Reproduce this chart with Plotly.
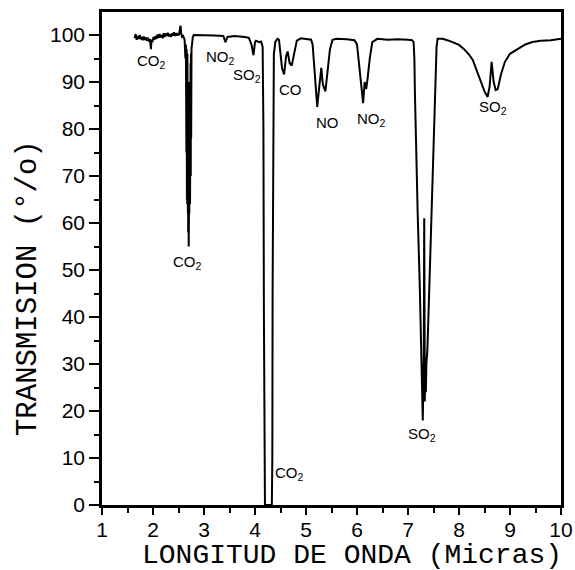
import plotly.graph_objects as go

# Spectrum: wavelength (micras) and transmission (%)
wavelength = [
    1.64, 1.66, 1.68, 1.70, 1.72, 1.74, 1.76, 1.78, 1.80, 1.82, 1.84, 1.86, 1.88, 1.90, 1.92, 1.94,
    1.96, 1.97, 1.99, 2.01, 2.03, 2.05, 2.07, 2.09, 2.11, 2.13, 2.15, 2.17, 2.19, 2.21, 2.23, 2.25,
    2.27, 2.29, 2.31, 2.33, 2.35, 2.37, 2.39, 2.41, 2.43, 2.45, 2.47, 2.49, 2.51, 2.53, 2.54, 2.55,
    2.57, 2.59, 2.61,
    2.620, 2.635, 2.645, 2.655, 2.660, 2.665, 2.669, 2.672, 2.675, 2.678, 2.681, 2.684, 2.687,
    2.690, 2.693, 2.695, 2.698, 2.700, 2.703, 2.705, 2.708, 2.712, 2.716,
    2.720, 2.723, 2.726, 2.729, 2.732, 2.736, 2.740, 2.744, 2.748, 2.755, 2.765, 2.780, 2.800,
    3.00, 3.20, 3.38, 3.42, 3.46, 3.60, 3.80, 3.88, 3.93, 3.97, 4.00, 4.02, 4.08, 4.12, 4.15,
    4.165, 4.175, 4.185, 4.195, 4.33, 4.34, 4.345, 4.355, 4.37, 4.40, 4.44, 4.47,
    4.49, 4.53, 4.57, 4.61, 4.64, 4.68, 4.72, 4.77, 4.82, 4.90, 5.00, 5.10,
    5.13, 5.17, 5.22, 5.26, 5.30, 5.33, 5.38, 5.42, 5.47, 5.52, 5.60, 5.80, 5.95,
    6.00, 6.05, 6.09, 6.12, 6.15, 6.18, 6.21, 6.25, 6.30, 6.40, 6.60, 6.80, 7.00,
    7.08, 7.11, 7.125, 7.135, 7.16, 7.19, 7.23, 7.265, 7.28, 7.29, 7.30, 7.31, 7.318, 7.322,
    7.33, 7.34, 7.35, 7.36, 7.38, 7.42, 7.46, 7.51, 7.545, 7.56, 7.58,
    7.68, 7.80, 7.90, 8.00, 8.10, 8.20, 8.27, 8.35, 8.44, 8.50, 8.56, 8.60, 8.64, 8.68, 8.72,
    8.76, 8.82, 8.90, 9.00, 9.13, 9.30, 9.44, 9.60, 9.80, 10.0,
]
transmission = [
    99.3, 100.2, 99.0, 99.8, 99.2, 100.0, 99.1, 99.6, 98.9, 99.7, 99.0, 99.5, 98.8, 99.4, 98.6, 99.2,
    97.0, 99.0, 98.5, 99.6, 99.0, 99.8, 99.2, 100.1, 99.4, 100.2, 99.5, 100.0, 99.3, 100.4, 99.6, 100.3,
    99.8, 100.5, 99.7, 100.2, 99.6, 100.3, 99.9, 100.6, 99.8, 100.4, 99.9, 100.2, 100.0, 101.0, 102.0, 100.5,
    99.6, 99.8, 99.0,
    99.0, 95.0, 98.0, 75.0, 97.0, 65.0, 95.0, 64.0, 96.0, 63.0, 92.0, 62.0, 90.0,
    58.0, 85.0, 60.0, 80.0, 55.0, 75.0, 62.0, 78.0, 62.0, 88.0,
    64.0, 90.0, 64.0, 93.0, 66.0, 94.0, 70.0, 96.0, 78.0, 97.0, 98.0, 99.5, 100.0,
    100.0, 99.9, 99.8, 98.5, 99.6, 99.8, 99.6, 99.4, 98.0, 95.7, 98.5, 98.8, 98.5, 98.6, 97.5,
    80.0, 40.0, 5.0, 0.0, 0.0, 10.0, 45.0, 85.0, 96.0, 98.6, 99.2, 99.0,
    97.0, 93.0, 91.6, 95.5, 96.5, 94.0, 93.5, 96.0, 98.8, 99.3, 99.2, 99.0,
    98.0, 91.0, 84.7, 89.0, 93.0, 89.5, 88.0, 92.0, 97.0, 99.0, 99.2, 99.1, 98.9,
    98.0, 93.0, 88.0, 85.5, 90.0, 88.5, 91.0, 95.0, 98.5, 99.2, 99.0, 99.1, 99.0,
    98.9, 98.5, 95.0, 88.0, 75.0, 62.0, 47.0, 33.0, 25.0, 18.0, 26.0, 32.0, 61.0, 30.0,
    22.0, 31.0, 24.0, 30.0, 33.0, 47.0, 62.0, 78.0, 92.0, 97.5, 99.2,
    99.2, 98.8, 98.4, 97.9, 97.0, 95.8, 94.7, 92.5, 90.0, 88.0, 86.8, 89.0, 94.3, 90.0, 88.3,
    88.5, 91.5, 94.3, 96.0, 96.8, 98.0, 98.5, 98.8, 98.9, 99.2,
]

# Gas labels
label_text = ["CO<sub>2</sub>", "NO<sub>2</sub>", "SO<sub>2</sub>", "CO", "NO", "NO<sub>2</sub>",
              "SO<sub>2</sub>", "CO<sub>2</sub>", "CO<sub>2</sub>", "SO<sub>2</sub>"]
label_x = [1.97, 3.32, 3.85, 4.70, 5.42, 6.28, 8.66, 2.68, 4.68, 7.27]
label_y = [94.3, 95.3, 91.3, 88.5, 81.3, 82.1, 84.5, 51.5, 6.8, 14.9]

x_ticks = [1, 2, 3, 4, 5, 6, 7, 8, 9, 10]
y_ticks = [0, 10, 20, 30, 40, 50, 60, 70, 80, 90, 100]

fig = go.Figure()
fig.add_trace(go.Scatter(
    x=wavelength, y=transmission, mode="lines",
    line=dict(color="black", width=2), hoverinfo="skip", showlegend=False,
))

for t, lx, ly in zip(label_text, label_x, label_y):
    fig.add_annotation(x=lx, y=ly, xref="x", yref="y", text=t, showarrow=False,
                       font=dict(family="Liberation Sans", size=15, color="black"))

title_font = dict(family="Liberation Mono", size=28, color="black")
fig.add_annotation(x=0.545, y=0, xref="paper", yref="paper", yshift=-50,
                   text="LONGITUD DE ONDA (Micras)", showarrow=False,
                   xanchor="center", yanchor="middle", font=title_font)
fig.add_annotation(x=0, y=0.44, xref="paper", yref="paper", xshift=-74,
                   text="TRANSMISION (°/o)", showarrow=False, textangle=-90,
                   xanchor="center", yanchor="middle", font=dict(family="Liberation Mono", size=29, color="black"))

tick_font = dict(family="Liberation Sans", size=21, color="black")
fig.update_xaxes(
    range=[1, 10], tickvals=x_ticks, ticks="outside", ticklen=7, tickwidth=2,
    tickcolor="black", showline=True, linecolor="black", linewidth=2.5, mirror=True,
    showgrid=False, zeroline=False, tickfont=tick_font, automargin=False,
    ticklabelstandoff=-3,
    minor=dict(dtick=0.5, ticks="outside", ticklen=5, tickwidth=2, tickcolor="black"),
)
fig.update_yaxes(
    range=[0, 104.9], tickvals=y_ticks, ticks="outside", ticklen=10, tickwidth=2,
    tickcolor="black", showline=True, linecolor="black", linewidth=2.5, mirror=True,
    showgrid=False, zeroline=False, tickfont=tick_font, automargin=False,
    minor=dict(dtick=5, ticks="outside", ticklen=5, tickwidth=2, tickcolor="black"),
)
fig.update_layout(
    width=575, height=570, margin=dict(l=102, r=14, t=12, b=65),
    paper_bgcolor="white", plot_bgcolor="white",
)
fig.write_html("out.html")
